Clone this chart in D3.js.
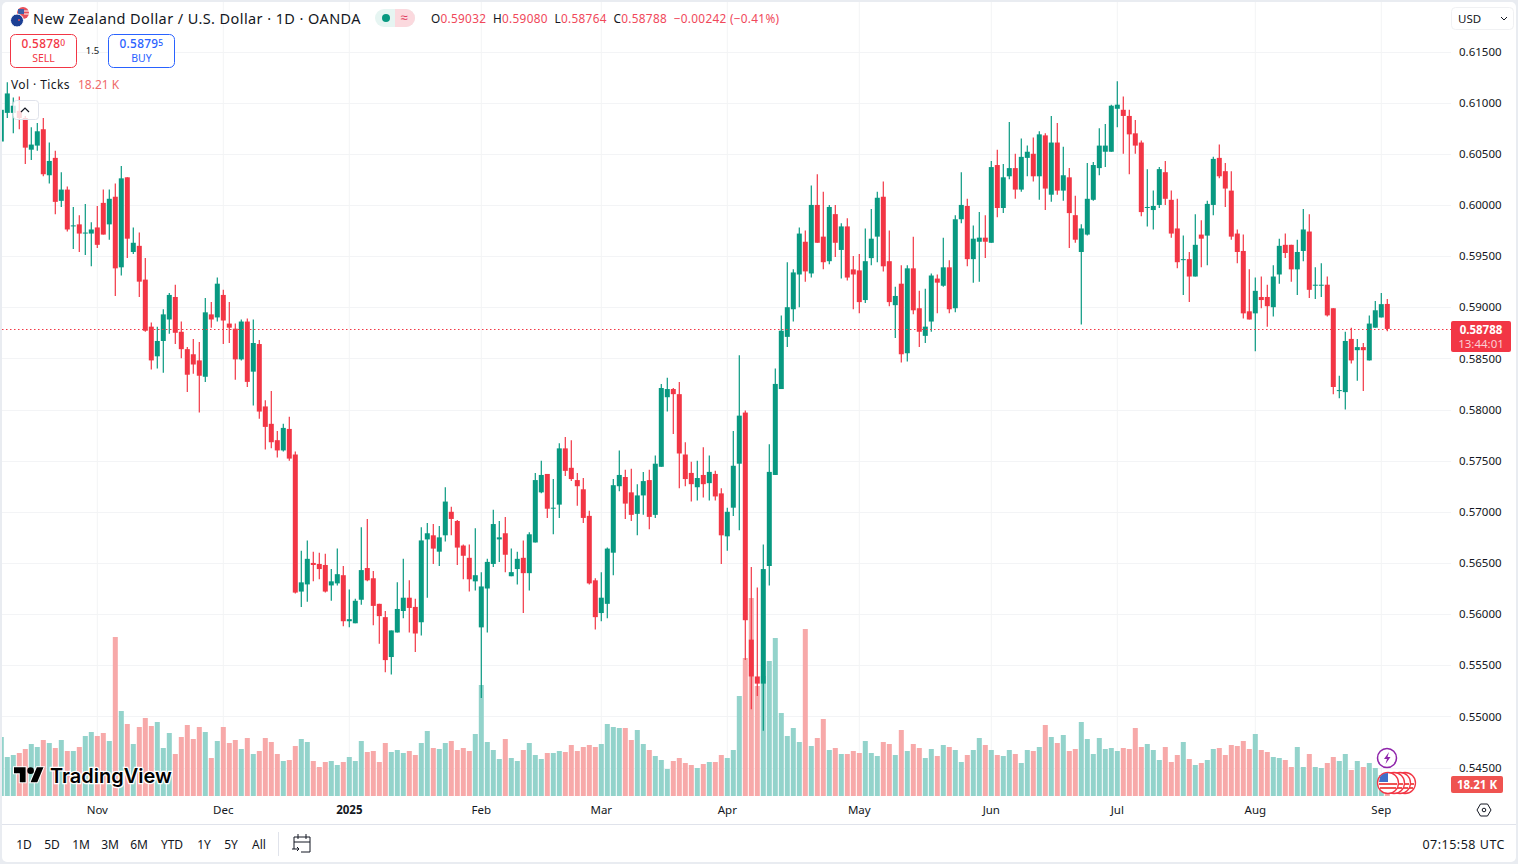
<!DOCTYPE html>
<html>
<head>
<meta charset="utf-8">
<title>NZD/USD</title>
<script src="https://cdn.jsdelivr.net/npm/d3@7"></script>
<style>
html, body { margin: 0; padding: 0; background: #fff; overflow: hidden; }
text { font-family: "Noto Sans", sans-serif; fill: #131722; }
</style>
</head>
<body>
<div id="container"></div>
<script>
/* candles, one line = 10 days */
const opens = [
0.6062,0.6090,0.6090,0.6092,0.6085,0.6054,0.6058,0.6074,0.6029,0.6046,
0.6004,0.6015,0.5979,0.5981,0.5972,0.5972,0.5978,0.6002,0.5981,0.6008,
0.5939,0.6027,0.5954,0.5960,0.5927,0.5881,0.5852,0.5867,0.5888,0.5910,
0.5876,0.5859,0.5854,0.5848,0.5832,0.5893,0.5890,0.5912,0.5884,0.5879,
0.5849,0.5886,0.5837,0.5864,0.5803,0.5786,0.5770,0.5760,0.5781,0.5756,
0.5622,0.5629,0.5650,0.5649,0.5648,0.5628,0.5630,0.5638,0.5593,0.5591,
0.5614,0.5645,0.5635,0.5610,0.5597,0.5558,0.5582,0.5603,0.5616,0.5607,
0.5592,0.5673,0.5677,0.5661,0.5677,0.5700,0.5691,0.5667,0.5655,0.5632,
0.5587,0.5625,0.5649,0.5673,0.5679,0.5637,0.5644,0.5655,0.5640,0.5670,
0.5719,0.5737,0.5703,0.5707,0.5762,0.5743,0.5731,0.5722,0.5696,0.5633,
0.5601,0.5610,0.5660,0.5725,0.5734,0.5719,0.5698,0.5716,0.5731,0.5697,
0.5744,0.5812,0.5820,0.5815,0.5756,0.5738,0.5724,0.5736,0.5728,0.5737,
0.5718,0.5676,0.5704,0.5747,0.5797,0.5575,0.5539,0.5532,0.5647,0.5736,
0.5820,0.5871,0.5898,0.5932,0.5964,0.5933,0.6000,0.5969,0.5945,0.5991,
0.5956,0.5979,0.5937,0.5936,0.5907,0.5948,0.5969,0.6008,0.5945,0.5902,
0.5923,0.5855,0.5938,0.5899,0.5872,0.5886,0.5928,0.5921,0.5939,0.5899,
0.5986,0.5999,0.5947,0.5964,0.5968,0.5963,0.6039,0.5997,0.6028,0.6036,
0.6015,0.6046,0.6050,0.6028,0.6068,0.6010,0.6061,0.6014,0.6027,0.5990,
0.5954,0.5971,0.6005,0.6036,0.6052,0.6052,0.6094,0.6093,0.6087,0.6070,
0.6061,0.5997,0.5995,0.6000,0.6032,0.6005,0.5977,0.5946,0.5947,0.5930,
0.5971,0.5970,0.6000,0.6046,0.6033,0.6014,0.5972,0.5955,0.5896,0.5894,
0.5910,0.5910,0.5900,0.5932,0.5961,0.5961,0.5937,0.5955,0.5974,0.5921,
0.5921,0.5922,0.5899,0.5818,0.5817,0.5869,0.5858,0.5861,0.5848,0.5880,
0.5890,0.59032];
const highs = [
0.6095,0.6120,0.6105,0.6106,0.6087,0.6076,0.6080,0.6085,0.6061,0.6053,
0.6032,0.6018,0.5998,0.5990,0.6001,0.5983,0.5999,0.6015,0.6015,0.6021,
0.6038,0.6027,0.5978,0.5973,0.5948,0.5885,0.5881,0.5898,0.5914,0.5922,
0.5886,0.5861,0.5869,0.5866,0.5909,0.5905,0.5929,0.5917,0.5905,0.5884,
0.5888,0.5889,0.5888,0.5868,0.5809,0.5818,0.5779,0.5786,0.5793,0.5759,
0.5662,0.5672,0.5661,0.5660,0.5659,0.5644,0.5664,0.5647,0.5624,0.5615,
0.5685,0.5693,0.5642,0.5610,0.5603,0.5584,0.5631,0.5654,0.5633,0.5615,
0.5685,0.5689,0.5688,0.5686,0.5724,0.5705,0.5692,0.5668,0.5668,0.5684,
0.5641,0.5654,0.5702,0.5691,0.5695,0.5664,0.5661,0.5672,0.5680,0.5738,
0.5750,0.5737,0.5732,0.5767,0.5773,0.5770,0.5738,0.5733,0.5701,0.5635,
0.5641,0.5665,0.5732,0.5760,0.5741,0.5742,0.5727,0.5739,0.5741,0.5755,
0.5825,0.5831,0.5821,0.5827,0.5768,0.5749,0.5750,0.5763,0.5755,0.5740,
0.5723,0.5704,0.5779,0.5853,0.5799,0.5646,0.5626,0.5668,0.5766,0.5840,
0.5892,0.5944,0.5937,0.5978,0.5975,0.6019,0.6030,0.6013,0.6000,0.6000,
0.5982,0.5987,0.5950,0.5952,0.5977,0.5996,0.6013,0.6023,0.5975,0.5920,
0.5941,0.5941,0.5969,0.5916,0.5918,0.5933,0.5932,0.5968,0.5946,0.5990,
0.6032,0.6006,0.5980,0.5993,0.5990,0.6043,0.6054,0.6040,0.6081,0.6050,
0.6065,0.6058,0.6066,0.6072,0.6070,0.6087,0.6080,0.6057,0.6036,0.6009,
0.5981,0.6041,0.6042,0.6075,0.6079,0.6098,0.6121,0.6106,0.6093,0.6083,
0.6063,0.6035,0.6014,0.6037,0.6043,0.6014,0.6006,0.5970,0.5954,0.5991,
0.5985,0.6004,0.6047,0.6059,0.6041,0.6033,0.5976,0.5971,0.5937,0.5929,
0.5930,0.5922,0.5941,0.5967,0.5972,0.5961,0.5966,0.5996,0.5991,0.5939,
0.5943,0.5930,0.5899,0.5833,0.5876,0.5880,0.5869,0.5865,0.5892,0.5906,
0.5914,0.59080];
const lows = [
0.6062,0.6085,0.6070,0.6074,0.6040,0.6044,0.6053,0.6028,0.6021,0.5991,
0.5998,0.5974,0.5957,0.5954,0.5951,0.5940,0.5958,0.5971,0.5966,0.5911,
0.5931,0.5948,0.5952,0.5910,0.5876,0.5839,0.5840,0.5836,0.5874,0.5864,
0.5850,0.5817,0.5835,0.5797,0.5827,0.5880,0.5886,0.5864,0.5865,0.5829,
0.5848,0.5822,0.5804,0.5791,0.5761,0.5762,0.5753,0.5759,0.5750,0.5620,
0.5607,0.5612,0.5632,0.5634,0.5621,0.5613,0.5628,0.5588,0.5587,0.5591,
0.5609,0.5632,0.5589,0.5571,0.5543,0.5541,0.5582,0.5596,0.5582,0.5563,
0.5579,0.5616,0.5649,0.5647,0.5671,0.5677,0.5648,0.5634,0.5622,0.5623,
0.5518,0.5582,0.5646,0.5651,0.5641,0.5637,0.5629,0.5601,0.5623,0.5670,
0.5718,0.5694,0.5678,0.5694,0.5735,0.5730,0.5706,0.5689,0.5629,0.5585,
0.5593,0.5596,0.5638,0.5720,0.5693,0.5691,0.5677,0.5697,0.5683,0.5694,
0.5744,0.5798,0.5776,0.5723,0.5725,0.5710,0.5711,0.5714,0.5711,0.5711,
0.5649,0.5662,0.5696,0.5682,0.5555,0.5507,0.5520,0.5486,0.5628,0.5736,
0.5820,0.5861,0.5886,0.5900,0.5925,0.5929,0.5963,0.5937,0.5942,0.5949,
0.5928,0.5926,0.5898,0.5894,0.5904,0.5941,0.5944,0.5935,0.5901,0.5870,
0.5846,0.5847,0.5893,0.5861,0.5865,0.5876,0.5894,0.5920,0.5894,0.5895,
0.5982,0.5940,0.5924,0.5925,0.5948,0.5963,0.5988,0.5992,0.6025,0.6006,
0.6013,0.6028,0.6023,0.6005,0.5995,0.6003,0.6010,0.6004,0.5958,0.5963,
0.5883,0.5970,0.6004,0.6029,0.6037,0.6052,0.6076,0.6050,0.6030,0.6050,
0.5989,0.5979,0.5976,0.5997,0.6000,0.5968,0.5938,0.5912,0.5905,0.5930,
0.5939,0.5941,0.5990,0.6026,0.5998,0.5966,0.5943,0.5889,0.5888,0.5857,
0.5899,0.5881,0.5891,0.5923,0.5948,0.5925,0.5912,0.5945,0.5909,0.5908,
0.5910,0.5891,0.5815,0.5811,0.5800,0.5845,0.5828,0.5818,0.5848,0.5880,
0.5890,0.58764];
const closes = [
0.6093,0.6109,0.6097,0.6085,0.6056,0.6059,0.6072,0.6030,0.6043,0.6003,
0.6015,0.5976,0.5980,0.5972,0.5973,0.5976,0.5961,0.5971,0.6006,0.5938,
0.6026,0.5967,0.5963,0.5925,0.5877,0.5848,0.5867,0.5893,0.5912,0.5875,
0.5859,0.5834,0.5844,0.5833,0.5895,0.5888,0.5923,0.5887,0.5880,0.5849,
0.5886,0.5827,0.5865,0.5798,0.5783,0.5768,0.5760,0.5782,0.5752,0.5621,
0.5631,0.5654,0.5648,0.5644,0.5622,0.5632,0.5639,0.5593,0.5595,0.5613,
0.5643,0.5633,0.5608,0.5598,0.5555,0.5584,0.5605,0.5616,0.5606,0.5581,
0.5672,0.5679,0.5664,0.5675,0.5710,0.5693,0.5665,0.5657,0.5634,0.5638,
0.5627,0.5651,0.5688,0.5675,0.5658,0.5641,0.5654,0.5640,0.5678,0.5731,
0.5736,0.5703,0.5704,0.5762,0.5740,0.5732,0.5725,0.5694,0.5630,0.5597,
0.5616,0.5664,0.5726,0.5736,0.5708,0.5697,0.5716,0.5730,0.5695,0.5747,
0.5821,0.5820,0.5815,0.5757,0.5732,0.5727,0.5733,0.5727,0.5739,0.5715,
0.5677,0.5700,0.5745,0.5794,0.5594,0.5539,0.5532,0.5644,0.5739,0.5825,
0.5877,0.5900,0.5934,0.5972,0.5935,0.6000,0.5963,0.5944,0.5998,0.5963,
0.5979,0.5929,0.5932,0.5905,0.5945,0.5967,0.6007,0.5940,0.5905,0.5911,
0.5854,0.5938,0.5897,0.5876,0.5881,0.5931,0.5924,0.5939,0.5898,0.5986,
0.6000,0.5947,0.5967,0.5968,0.5964,0.6037,0.5997,0.6027,0.6036,0.6015,
0.6047,0.6052,0.6028,0.6069,0.6016,0.6061,0.6014,0.6029,0.5992,0.5966,
0.5977,0.6006,0.6039,0.6058,0.6058,0.6097,0.6098,0.6087,0.6069,0.6058,
0.5993,0.5998,0.5999,0.6035,0.6006,0.5972,0.5944,0.5947,0.5930,0.5961,
0.5967,0.6001,0.6045,0.6028,0.6016,0.5969,0.5954,0.5894,0.5888,0.5916,
0.5907,0.5901,0.5930,0.5960,0.5953,0.5937,0.5954,0.5976,0.5917,0.5922,
0.5922,0.5892,0.5822,0.5819,0.5867,0.5848,0.5861,0.5858,0.5884,0.5897,
0.5903,0.58788];

/* volume, thousands of ticks */
const volumes = [
88.5,58.5,61.5,64.5,70.5,78,73.5,84,79.5,72,
84,67.5,67.5,73.5,90,96,90,94.5,82.5,238.5,
127.5,108,78,103.5,117,105,111,72,94.5,63,
88.5,106.5,85.5,103.5,96,57,82.5,103.5,79.5,84,
70.5,87,63,67.5,87,81,63,52.5,54,75,
85.5,81,52.5,43.5,51,52.5,46.5,51,58.5,52.5,
82.5,66,67.5,51,79.5,66,69,64.5,67.5,61.5,
79.5,97.5,72,70.5,79.5,82.5,69,72,67.5,93,
166.5,81,69,55.5,85.5,57,52.5,69,79.5,61.5,
55.5,64.5,64.5,67.5,66,76.5,67.5,73.5,76.5,73.5,
78,108,103.5,102,102,84,99,78,69,60,
54,40.5,52.5,57,49.5,46.5,42,48,51,51,
61.5,57,69,150,207,297,165,180,202.5,237,
124.5,90,102,81,250.5,75,87,115.5,69,72,
63,63,67.5,64.5,82.5,64.5,60,81,78,61.5,
99,67.5,78,72,57,70.5,60,76.5,73.5,69,
51,61.5,69,87,76.5,69,61.5,60,69,63,
49.5,69,67.5,73.5,106.5,88.5,79.5,91.5,67.5,70.5,
111,85.5,63,87,70.5,72,67.5,72,70.5,102,
73.5,78,69,54,73.5,51,61.5,81,55.5,46.5,
49.5,54,70.5,72,61.5,76.5,75,82.5,70.5,93,
69,66,58.5,57,54,43.5,73.5,43.5,63,43.5,
42,49.5,58.5,52.5,63,39,52.5,43.5,49.5,42,
31.5,18.21];

const priceTicks = [0.615,0.61,0.605,0.6,0.595,0.59,0.585,0.58,0.575,0.57,0.565,0.56,0.555,0.55,0.545];
const monthTicks = [16,37,58,80,100,121,143,165,186,209,230];
const monthLabels = ["Nov","Dec","2025","Feb","Mar","Apr","May","Jun","Jul","Aug","Sep"];
const rangeButtons = ["1D","5D","1M","3M","6M","YTD","1Y","5Y","All"];
const rangeButtonX = [24,52,81,110,139,172,204,231,259];
const lastPrice = 0.58788;

const upColor = "#089981", downColor = "#f23645";
const upVol = "#93d3cb", downVol = "#f7a9a9";
const gridColor = "#f3f4f6";
const chartRight = 1451, chartBottom = 796;

const svg = d3.select("#container").append("svg")
	.attr("width", 1518)
	.attr("height", 864)
	.style("display", "block");

/* frame of the widget */
svg.append("rect").attr("width", 1518).attr("height", 864).attr("fill", "#e9ecf1");
svg.append("rect").attr("x", 2).attr("y", 2).attr("width", 1514).attr("height", 860).attr("rx", 5).attr("fill", "#fff");

svg.append("clipPath").attr("id", "plot")
	.append("rect").attr("x", 2).attr("y", 2).attr("width", chartRight - 2).attr("height", chartBottom - 2);

/* scales */
const x = d3.scaleBand()
	.domain(d3.range(opens.length))
	.range([-1.7, 1390.3])
	.paddingInner(1 / 6)
	.paddingOuter(1 / 12);
const mid = i => x(i) + x.bandwidth() / 2;

const y = d3.scaleLinear().domain([0.545, 0.615]).range([767.5, 51.5]);
const yVol = d3.scaleLinear().domain([0, 300]).range([chartBottom, chartBottom - 200]);

/* grid */
const plot = svg.append("g").attr("clip-path", "url(#plot)");
plot.append("g").selectAll("line")
	.data(priceTicks)
	.enter().append("line")
	.attr("x1", 2).attr("x2", chartRight)
	.attr("y1", d => Math.round(y(d)) + 0.5).attr("y2", d => Math.round(y(d)) + 0.5)
	.attr("stroke", gridColor);
plot.append("g").selectAll("line")
	.data(monthTicks)
	.enter().append("line")
	.attr("x1", d => mid(d)).attr("x2", d => mid(d))
	.attr("y1", 2).attr("y2", chartBottom)
	.attr("stroke", gridColor);

/* volume */
const isUp = i => closes[i] >= opens[i];
plot.append("g").selectAll("rect")
	.data(volumes)
	.enter().append("rect")
	.attr("x", (d, i) => x(i))
	.attr("width", x.bandwidth())
	.attr("y", d => yVol(d))
	.attr("height", d => chartBottom - yVol(d))
	.attr("fill", (d, i) => isUp(i) ? upVol : downVol);

/* candles */
const candles = plot.append("g").selectAll("g")
	.data(d3.range(opens.length))
	.enter().append("g");
candles.append("line")
	.attr("x1", i => mid(i)).attr("x2", i => mid(i))
	.attr("y1", i => y(highs[i])).attr("y2", i => y(lows[i]))
	.attr("stroke", i => isUp(i) ? upColor : downColor)
	.attr("stroke-width", 1.2);
candles.append("rect")
	.attr("x", i => x(i))
	.attr("width", x.bandwidth())
	.attr("y", i => y(Math.max(opens[i], closes[i])))
	.attr("height", i => Math.max(1, Math.abs(y(opens[i]) - y(closes[i]))))
	.attr("fill", i => isUp(i) ? upColor : downColor);

/* last price line */
plot.append("line")
	.attr("x1", 2).attr("x2", chartRight)
	.attr("y1", Math.round(y(lastPrice)) + 0.5).attr("y2", Math.round(y(lastPrice)) + 0.5)
	.attr("stroke", downColor)
	.attr("stroke-dasharray", "1.5,2.5");

/* price axis */
const priceAxis = svg.append("g")
	.attr("transform", "translate(" + chartRight + ",0)")
	.call(d3.axisRight(y).tickValues(priceTicks).tickFormat(d3.format(".5f")).tickSize(0).tickPadding(8));
priceAxis.select(".domain").remove();
priceAxis.selectAll("text").style("font-family", '"Noto Sans", sans-serif').style("font-size", "11.5px").attr("fill", "#131722");

/* time axis */
const timeAxis = svg.append("g")
	.attr("transform", "translate(0," + chartBottom + ")")
	.call(d3.axisBottom(x).tickValues(monthTicks).tickFormat((d, i) => monthLabels[i]).tickSize(0).tickPadding(10));
timeAxis.select(".domain").remove();
timeAxis.selectAll("text")
	.style("font-family", '"Noto Sans", sans-serif')
	.style("font-size", "11.5px")
	.style("font-weight", (d, i) => monthLabels[i] == "2025" ? "700" : "400")
	.attr("fill", "#131722");

/* last price labels */
svg.append("rect").attr("x", chartRight).attr("y", 321).attr("width", 60).attr("height", 31).attr("rx", 2).attr("fill", downColor);
svg.append("text").attr("x", 1481).attr("y", 334).attr("text-anchor", "middle")
	.style("font-size", "11.5px").style("font-weight", "700").style("fill", "#fff").text("0.58788");
svg.append("text").attr("x", 1481).attr("y", 348).attr("text-anchor", "middle")
	.style("font-size", "11.5px").style("fill", "#fbd0d4").text("13:44:01");
svg.append("rect").attr("x", chartRight).attr("y", 776).attr("width", 52).attr("height", 17).attr("rx", 2).attr("fill", "#ef5350");
svg.append("text").attr("x", 1477).attr("y", 789).attr("text-anchor", "middle")
	.style("font-size", "11.5px").style("font-weight", "700").style("fill", "#fff").text("18.21 K");

/* header */
svg.append("circle").attr("cx", 23).attr("cy", 13).attr("r", 6).attr("fill", "#e8505b");
svg.append("path").attr("d", "M18 9h6v5h-6z").attr("fill", "#3f5fa8");
svg.append("path").attr("d", "M24 11h5M24 14h5").attr("stroke", "#fff").attr("stroke-width", 1);
svg.append("circle").attr("cx", 17).attr("cy", 20.5).attr("r", 6.5).attr("fill", "#1c3f94").attr("stroke", "#fff").attr("stroke-width", 1);
svg.append("circle").attr("cx", 19).attr("cy", 20).attr("r", 1).attr("fill", "#e8505b");

svg.append("text").attr("x", 33).attr("y", 23.5).style("font-size", "14.5px").style("letter-spacing", "0.41px")
	.text("New Zealand Dollar / U.S. Dollar · 1D · OANDA");

svg.append("rect").attr("x", 375).attr("y", 9).attr("width", 40).attr("height", 18).attr("rx", 9).attr("fill", "#e6f5f2");
svg.append("path").attr("d", "M395 9h11a9 9 0 0 1 0 18h-11z").attr("fill", "#fbd9de");
svg.append("circle").attr("cx", 386).attr("cy", 18).attr("r", 4).attr("fill", upColor);
svg.append("text").attr("x", 404).attr("y", 22).attr("text-anchor", "middle")
	.style("font-size", "13px").style("fill", "#e0355a").text("≈");

const ohlc = svg.append("text").attr("x", 431).attr("y", 22.5).style("font-size", "11.8px").style("letter-spacing", "0.3px");
[["O", 1], ["0.59032", 0], ["  H", 1], ["0.59080", 0], ["  L", 1], ["0.58764", 0], ["  C", 1], ["0.58788", 0], ["  −0.00242 (−0.41%)", 0]]
	.forEach(function(p) {
		ohlc.append("tspan")
			.attr("xml:space", "preserve")
			.style("white-space", "pre")
			.style("fill", p[1] ? "#131722" : "#f0485a")
			.text(p[0]);
	});

/* sell / buy boxes */
function tradeBox(left, color, price, small, label) {
	svg.append("rect").attr("x", left + 0.5).attr("y", 34.5).attr("width", 66).attr("height", 33).attr("rx", 5)
		.attr("fill", "#fff").attr("stroke", color);
	const t = svg.append("text").attr("x", left + 33.5).attr("y", 48).attr("text-anchor", "middle")
		.style("font-size", "11.8px").style("font-weight", "500").style("fill", color).style("letter-spacing", "0.3px");
	t.append("tspan").text(price);
	t.append("tspan").attr("dy", -2).style("font-size", "8.5px").style("fill", color).text(small);
	svg.append("text").attr("x", left + 33.5).attr("y", 62).attr("text-anchor", "middle")
		.style("font-size", "10.5px").style("fill", color).text(label);
}
tradeBox(10, "#f23645", "0.5878", "0", "SELL");
tradeBox(108, "#2962ff", "0.5879", "5", "BUY");
svg.append("text").attr("x", 92.5).attr("y", 54).attr("text-anchor", "middle").style("font-size", "9.5px").text("1.5");

/* volume legend */
svg.append("text").attr("x", 11).attr("y", 89).style("font-size", "12px").style("letter-spacing", "0.4px").text("Vol · Ticks");
svg.append("text").attr("x", 78).attr("y", 89).style("font-size", "12px").style("fill", "#ef6a6a").text("18.21 K");
svg.append("rect").attr("x", 13.5).attr("y", 100.5).attr("width", 25).attr("height", 19).attr("rx", 3)
	.attr("fill", "#fff").attr("fill-opacity", 0.8).attr("stroke", "#e0e3eb");
svg.append("path").attr("d", "M21 112l4-4 4 4").attr("fill", "none").attr("stroke", "#131722").attr("stroke-width", 1.2);

/* currency selector */
svg.append("rect").attr("x", 1451.5).attr("y", 7.5).attr("width", 62).attr("height", 22).attr("rx", 4)
	.attr("fill", "#fff").attr("stroke", "#f0f1f3");
svg.append("text").attr("x", 1458).attr("y", 22.5).style("font-size", "11.5px").text("USD");
svg.append("path").attr("d", "M1501 17l3 3 3-3").attr("fill", "none").attr("stroke", "#131722");

/* watermark */
const logo = svg.append("g").attr("transform", "translate(14,764) scale(0.83)");
logo.append("path").attr("d", "M14 22H7V11H0V4h14v18zM28 22h-8l7.5-18h8L28 22z").attr("fill", "#000").attr("stroke", "#fff").attr("stroke-width", 2.5).attr("paint-order", "stroke");
logo.append("circle").attr("cx", 20).attr("cy", 8).attr("r", 4).attr("fill", "#000");
svg.append("text").attr("x", 50).attr("y", 783)
	.style("font-family", "Inter, sans-serif").style("font-size", "20px").style("font-weight", "600")
	.style("fill", "#000").style("stroke", "#fff").style("stroke-width", 2.5).style("paint-order", "stroke")
	.text("TradingView");

/* event markers */
svg.append("circle").attr("cx", 1387).attr("cy", 758).attr("r", 9.5).attr("fill", "#fff").attr("stroke", "#8e24aa").attr("stroke-width", 1.5);
svg.append("path").attr("d", "M1389 752l-5 7h3l-1.5 5 5-7h-3z").attr("fill", "#8e24aa");
[1405, 1400, 1394, 1388].forEach(function(cx, k) {
	svg.append("circle").attr("cx", cx).attr("cy", 783).attr("r", 10.5).attr("fill", "#fff").attr("stroke", "#f23645").attr("stroke-width", 1.3);
	svg.append("path").attr("d", "M" + (cx - 9) + " 784h18M" + (cx - 8) + " 788h16").attr("stroke", "#ef5350").attr("stroke-width", 2);
	if (k == 3)
		svg.append("path").attr("d", "M" + (cx - 8) + " 777a10 10 0 0 1 8 -4v9h-9z").attr("fill", "#3f6fc9");
});

/* settings icon */
svg.append("path").attr("d", "M1477 810l3.5-6h7l3.5 6-3.5 6h-7z").attr("fill", "none").attr("stroke", "#131722");
svg.append("circle").attr("cx", 1484).attr("cy", 810).attr("r", 1.8).attr("fill", "none").attr("stroke", "#131722");

/* bottom toolbar */
svg.append("line").attr("x1", 2).attr("x2", 1516).attr("y1", 824.5).attr("y2", 824.5).attr("stroke", "#e0e3eb");
svg.append("g").selectAll("text")
	.data(rangeButtons)
	.enter().append("text")
	.attr("x", (d, i) => rangeButtonX[i])
	.attr("y", 849)
	.attr("text-anchor", "middle")
	.style("font-size", "12px")
	.text(d => d);
svg.append("line").attr("x1", 278.5).attr("x2", 278.5).attr("y1", 832).attr("y2", 856).attr("stroke", "#e0e3eb");
svg.append("path").attr("d", "M294 849v-12h16v15h-9M294 842h16M298 834v5M306 834v5M292 849h7m-2-2l2 2-2 2")
	.attr("fill", "none").attr("stroke", "#131722");
svg.append("text").attr("x", 1505).attr("y", 849).attr("text-anchor", "end").style("font-size", "12.5px").style("letter-spacing", "0.5px").text("07:15:58 UTC");
</script>
</body>
</html>
